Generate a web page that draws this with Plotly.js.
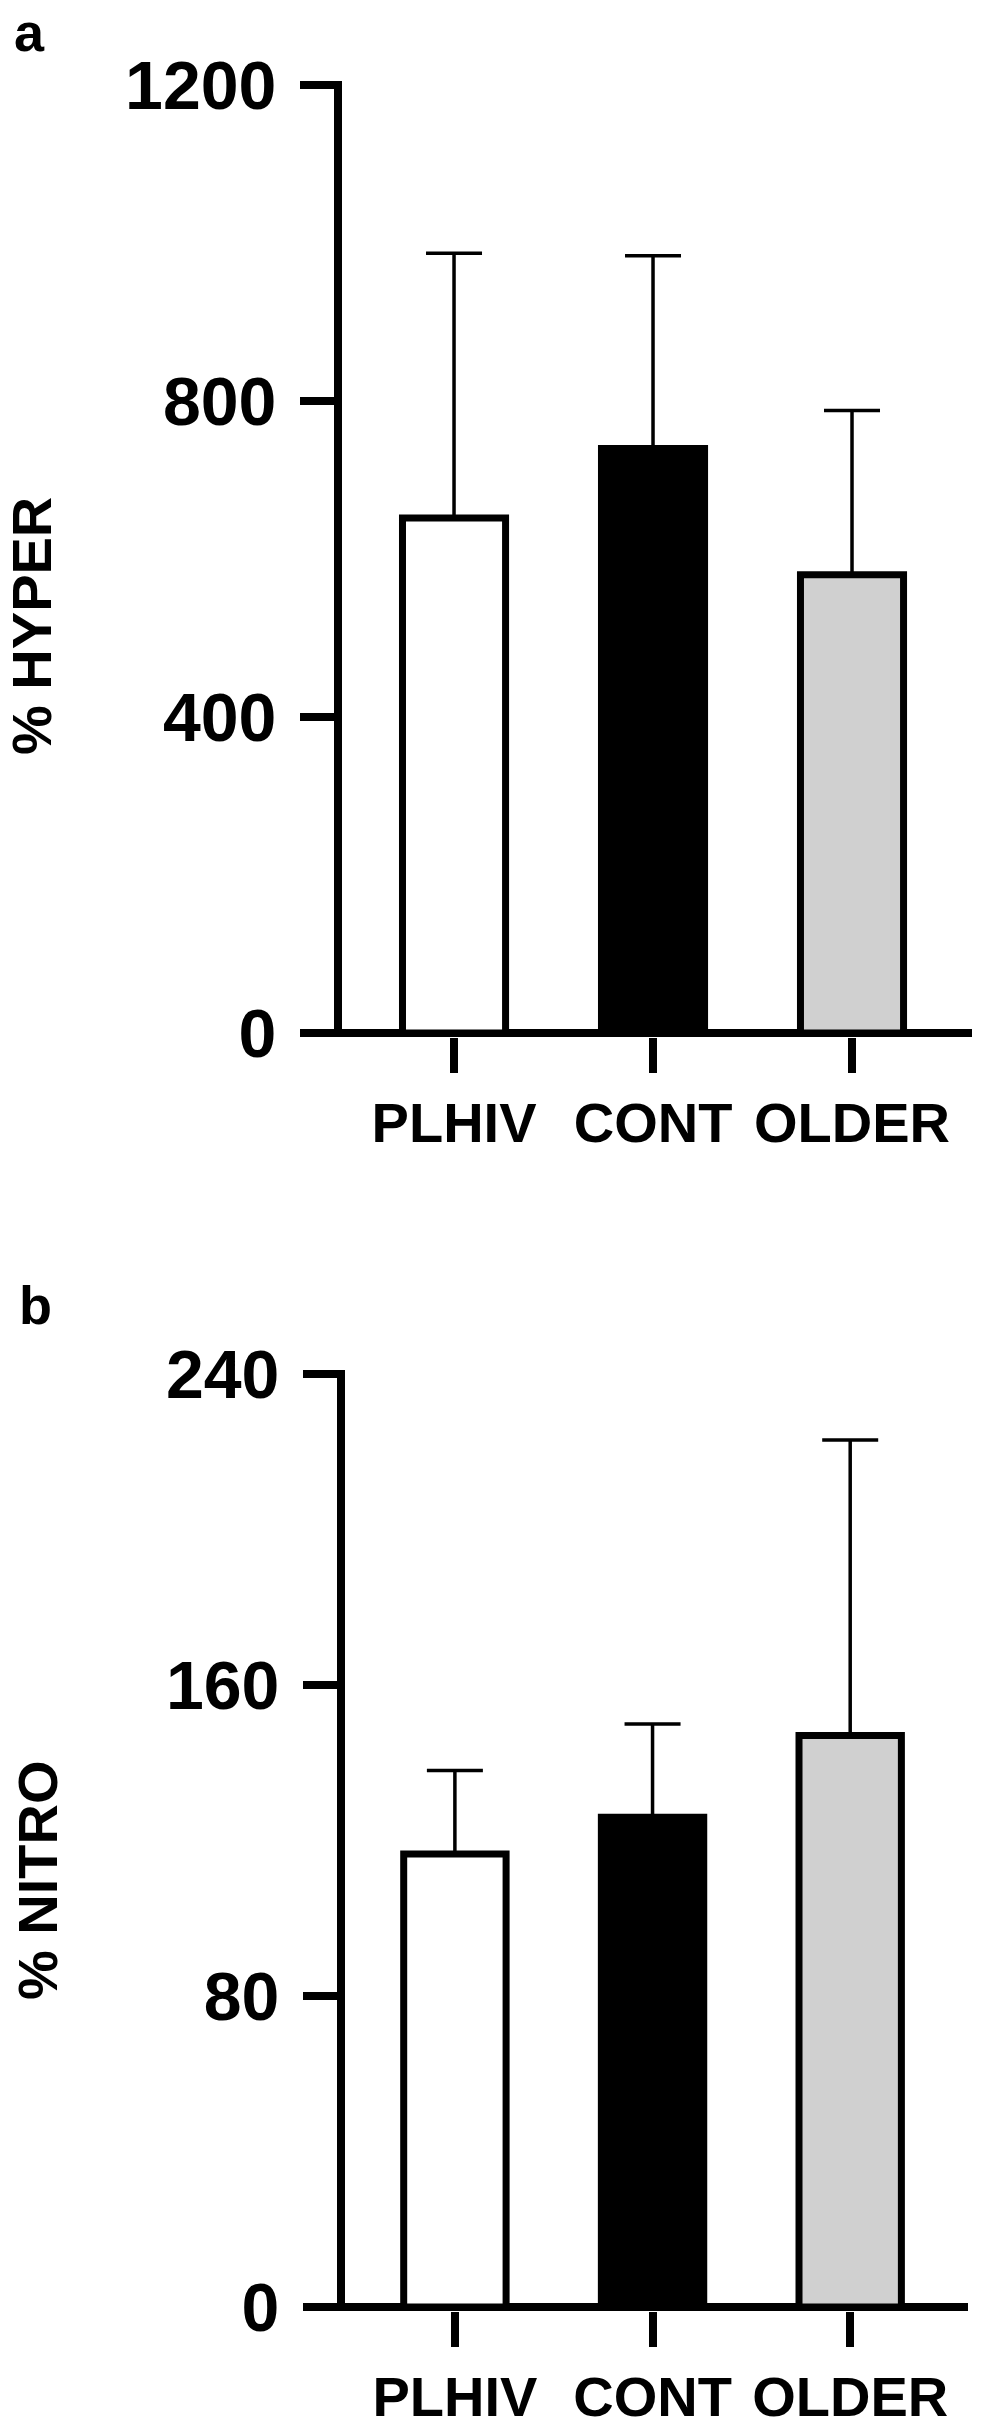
<!DOCTYPE html>
<html>
<head>
<meta charset="utf-8">
<script src="https://cdn.plot.ly/plotly-3.0.1.min.js"></script>
<style>html,body{margin:0;padding:0;background:#fff;}#chart{width:1000px;height:2429px;}</style>
</head>
<body>
<div id="chart"></div>
<script>
// ---- data ----
var groups = ["PLHIV", "CONT", "OLDER"];
var hyperMean = [652, 740, 580];
var hyperSD = [335, 244, 208];
var nitroMean = [116.5, 126, 147];
var nitroSD = [21.5, 24, 76];
var barColors = ["#ffffff", "#000000", "#d0d0d0"];
var hyperTicks = [0, 400, 800, 1200];
var nitroTicks = [0, 80, 160, 240];

var FONT = "Liberation Sans, Arial, Helvetica, sans-serif";

function barTrace(y, err, xa, ya) {
  return {
    type: "bar",
    x: groups,
    y: y,
    xaxis: xa,
    yaxis: ya,
    width: 0.518,
    marker: { color: barColors, line: { color: "#000000", width: 7 } },
    error_y: {
      type: "data", symmetric: false, array: err, arrayminus: [0, 0, 0],
      color: "#000000", thickness: 3.5, width: 28
    },
    hoverinfo: "skip"
  };
}

var data = [
  barTrace(hyperMean, hyperSD, "x", "y"),
  barTrace(nitroMean, nitroSD, "x2", "y2")
];

function xAxis(domain, range, anchor) {
  return {
    domain: domain, range: range, anchor: anchor, type: "category",
    showline: false, showgrid: false, zeroline: false,
    ticks: "outside", ticklen: 35, tickwidth: 8, tickcolor: "#000000",
    tickfont: { family: FONT, size: 56, weight: "bold", color: "#000000" },
    ticklabelstandoff: 2, fixedrange: true
  };
}
function yAxis(domain, range, anchor, tv) {
  return {
    domain: domain, range: range, anchor: anchor,
    tickvals: tv, ticktext: tv.map(String),
    showline: true, linewidth: 8, linecolor: "#000000",
    showgrid: false, zeroline: true, zerolinewidth: 8, zerolinecolor: "#000000",
    ticks: "outside", ticklen: 34, tickwidth: 8, tickcolor: "#000000",
    tickfont: { family: FONT, size: 68, weight: "bold", color: "#000000" },
    ticklabelstandoff: 10, fixedrange: true
  };
}

var layout = {
  width: 1000, height: 2429,
  margin: { l: 0, r: 0, t: 0, b: 0, pad: 0 },
  paper_bgcolor: "#ffffff", plot_bgcolor: "#ffffff",
  showlegend: false, bargap: 0.2,
  xaxis: xAxis([0.342, 0.972], [-0.563, 2.603], "y"),
  yaxis: yAxis([0.57308, 0.96665], [-5.06, 1205.06], "x", hyperTicks),
  xaxis2: xAxis([0.345, 0.968], [-0.556, 2.596], "y2"),
  yaxis2: yAxis([0.04858, 0.43598], [-1.029, 241.03], "x2", nitroTicks),
  annotations: [
    { text: "% HYPER", xref: "paper", yref: "paper", x: 0.031, y: 1 - 626 / 2429,
      xanchor: "center", yanchor: "middle", textangle: -90, showarrow: false,
      font: { family: FONT, size: 56, weight: "bold", color: "#000000" } },
    { text: "% NITRO", xref: "paper", yref: "paper", x: 0.037, y: 1 - 1880 / 2429,
      xanchor: "center", yanchor: "middle", textangle: -90, showarrow: false,
      font: { family: FONT, size: 56, weight: "bold", color: "#000000" } },
    { text: "a", xref: "paper", yref: "paper", x: 0.012, y: 1 - 32 / 2429,
      xanchor: "left", yanchor: "middle", showarrow: false,
      font: { family: FONT, size: 54, weight: "bold", color: "#000000" } },
    { text: "b", xref: "paper", yref: "paper", x: 0.017, y: 1 - 1305 / 2429,
      xanchor: "left", yanchor: "middle", showarrow: false,
      font: { family: FONT, size: 54, weight: "bold", color: "#000000" } }
  ]
};

Plotly.newPlot("chart", data, layout, { staticPlot: true, displayModeBar: false });
</script>
</body>
</html>
